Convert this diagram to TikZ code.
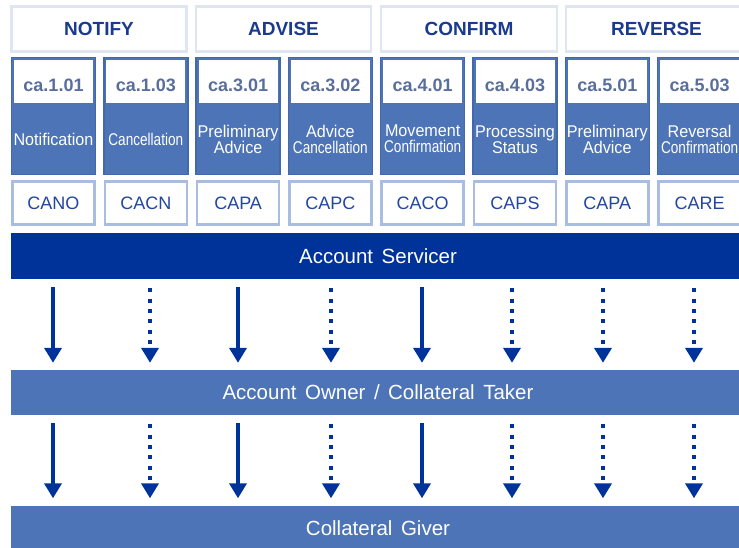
\documentclass[tikz,border=0pt]{standalone}
\usepackage{fontspec}
\setmainfont{Liberation Sans}
\usetikzlibrary{arrows.meta}
\definecolor{dkblue}{HTML}{003399}
\definecolor{mdblue}{HTML}{4D74B6}
\definecolor{bdblue}{HTML}{4369AD}
\definecolor{ltborder}{HTML}{A9BDE2}
\definecolor{hdborder}{HTML}{DFE5F1}
\definecolor{hdtext}{HTML}{1B3A8F}
\definecolor{catext}{HTML}{5A6E9E}
\definecolor{codetext}{HTML}{2346A0}
\newcommand{\cnd}[1]{\scalebox{0.8}[1]{#1}}
\newcommand{\nrw}[1]{\scalebox{0.95}[1]{#1}}
\newcommand{\widesp}{\spaceskip=8.5pt\relax}
\begin{document}
\begin{tikzpicture}[x=1pt,y=-1pt,
  hdbox/.style={draw=hdborder, line width=2.5pt, fill=white, minimum height=45pt, inner sep=0,
    font=\fontsize{19}{22}\selectfont\bfseries, text=hdtext},
  colbox/.style={draw=bdblue, line width=1.5pt, fill=mdblue, minimum width=84pt, minimum height=117pt, inner sep=0},
  cabox/.style={fill=white, minimum width=79pt, minimum height=43pt, inner sep=0,
    text height=21pt, text depth=0pt,
    font=\fontsize{18}{20}\selectfont\bfseries, text=catext},
  desc/.style={text=white, font=\fontsize{17}{16}\selectfont, align=center, inner sep=0},
  codebox/.style={draw=ltborder, line width=2.5pt, fill=white, minimum width=82pt, minimum height=43pt, inner sep=0,
    font=\fontsize{18}{20}\selectfont, text=codetext},
  bar/.style={minimum width=734pt, inner sep=0, text=white,
    font=\fontsize{20.5}{24}\selectfont\widesp},
  arr/.style={draw=dkblue, line width=4pt, -{Triangle[width=17pt,length=15pt,fill=dkblue]}},
  darr/.style={arr, dash pattern=on 4pt off 6.4pt},
]
\useasboundingbox (0,0) rectangle (739,548);
\clip (0,0) rectangle (739,548);

% headers
\node[hdbox, minimum width=175pt] (hN) at (99,29) {NOTIFY};
\node[hdbox, minimum width=175pt] (hA) at (283.5,29) {ADVISE};
\node[hdbox, minimum width=176pt] (hC) at (469,29) {CONFIRM};
\node[hdbox, minimum width=181pt] (hR) at (656.5,29) {REVERSE};

% columns
\foreach \i/\ca/\desc/\code in {
  1/ca.1.01/\nrw{Notification}/CANO,
  2/ca.1.03/\cnd{Cancellation}/CACN,
  3/ca.3.01/{\nrw{Preliminary}\\\nrw{Advice}}/CAPA,
  4/ca.3.02/{\nrw{Advice}\\\cnd{Cancellation}}/CAPC,
  5/ca.4.01/{\nrw{Movement}\\\cnd{Confirmation}}/CACO,
  6/ca.4.03/{\nrw{Processing}\\\nrw{Status}}/CAPS,
  7/ca.5.01/{\nrw{Preliminary}\\\nrw{Advice}}/CAPA,
  8/ca.5.03/{\nrw{Reversal}\\\cnd{Confirmation}}/CARE}{
  \pgfmathsetmacro{\cx}{53.5+92.3*(\i-1)}
  \node[colbox] (col\i) at (\cx,116) {};
  \node[cabox] (ca\i) at (\cx,81.5) {\ca};
  \node[desc] (desc\i) at (\cx,139) {\desc};
  \node[codebox] (code\i) at (\cx,203) {\code};
}

% bars
\node[bar, fill=dkblue, minimum height=46pt] (as) at (378,256) {Account Servicer};
\node[bar, fill=mdblue, minimum height=45pt] (ao) at (378,392.5) {Account Owner / Collateral Taker};
\node[bar, fill=mdblue, minimum height=44pt] (cg) at (378,528) {Collateral Giver};

% arrow columns
\foreach \j/\xx in {1/53,2/150,3/238,4/331,5/422,6/512,7/603,8/694}
  \coordinate (ax\j) at (\xx,0);

\foreach \j in {1,3,5}{
  \draw[arr, shorten <=8pt, shorten >=7pt] (as.south -| ax\j) -- (ao.north -| ax\j);
  \draw[arr, shorten <=8pt, shorten >=7.5pt] (ao.south -| ax\j) -- (cg.north -| ax\j);
}
\foreach \j in {2,4,6,7,8}{
  \draw[darr, shorten <=9pt, shorten >=7pt] (as.south -| ax\j) -- (ao.north -| ax\j);
  \draw[darr, shorten <=9pt, shorten >=7.5pt] (ao.south -| ax\j) -- (cg.north -| ax\j);
}
\end{tikzpicture}
\end{document}
